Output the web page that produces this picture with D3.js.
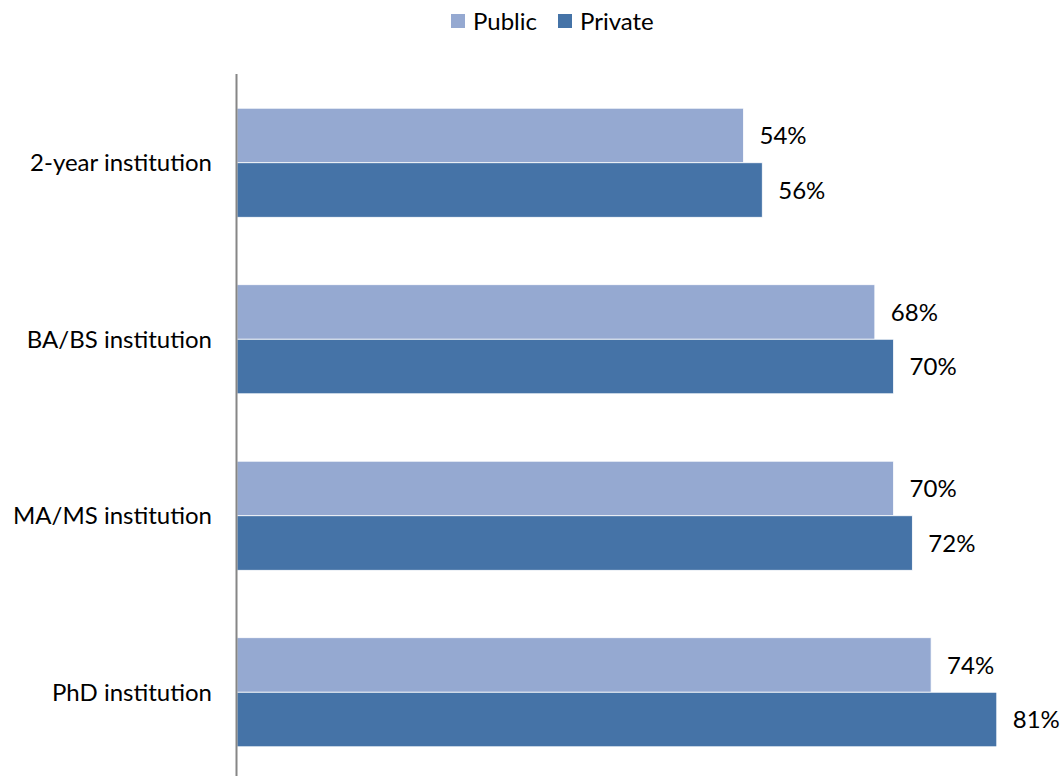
<!DOCTYPE html>
<html>
<head>
<meta charset="utf-8">
<script src="https://cdn.jsdelivr.net/npm/d3@7"></script>
<style>
  html, body { margin: 0; padding: 0; background: #fff; }
  text { font-family: Lato, "Open Sans", sans-serif; fill: #000; }
</style>
</head>
<body>
<svg id="chart" width="1060" height="778"></svg>
<script>
const categories = ["2-year institution", "BA/BS institution", "MA/MS institution", "PhD institution"];
const seriesNames = ["Public", "Private"];
const publicValues = [0.54, 0.68, 0.70, 0.74];
const privateValues = [0.56, 0.70, 0.72, 0.81];
const seriesColors = ["#95A9D1", "#4573A7"];

const data = categories.map((c, i) => ({
  category: c,
  values: [
    { series: seriesNames[0], value: publicValues[i] },
    { series: seriesNames[1], value: privateValues[i] }
  ]
}));

const svg = d3.select("#chart");
const fontSize = 24;

const x = d3.scaleLinear().domain([0, 1]).range([237, 1175]);
const y = d3.scaleBand().domain(categories).range([74.5, 780.5]).paddingInner(0.382).paddingOuter(0.191);
const ySub = d3.scaleBand().domain(seriesNames).range([0, y.bandwidth()]);
const color = d3.scaleOrdinal().domain(seriesNames).range(seriesColors);

const groups = svg.selectAll("g.cat")
  .data(data)
  .join("g")
  .attr("class", "cat")
  .attr("transform", d => `translate(0,${y(d.category)})`);

groups.selectAll("rect")
  .data(d => d.values)
  .join("rect")
  .attr("x", x(0))
  .attr("y", d => ySub(d.series))
  .attr("width", d => x(d.value) - x(0))
  .attr("height", ySub.bandwidth())
  .attr("fill", d => color(d.series))
  .attr("stroke", "#fff")
  .attr("stroke-width", 0.8);

groups.selectAll("text.val")
  .data(d => d.values)
  .join("text")
  .attr("class", "val")
  .attr("x", d => x(d.value) + 16)
  .attr("y", d => ySub(d.series) + ySub.bandwidth() / 2)
  .attr("dy", "0.36em")
  .style("font-size", fontSize + "px")
  .text(d => d3.format(".0%")(d.value));

// Category axis on the left, labels only
const yAxis = d3.axisLeft(y).tickSize(0).tickPadding(25);
const ax = svg.append("g").attr("transform", `translate(${x(0)},0)`).call(yAxis);
ax.select(".domain").remove();
ax.selectAll("text").style("font-size", fontSize + "px").attr("dy", "0.36em")
  .style("font-family", "Lato, 'Open Sans', sans-serif").attr("fill", "#000");

svg.append("line")
  .attr("x1", x(0) - 0.5).attr("x2", x(0) - 0.5)
  .attr("y1", 74).attr("y2", 776)
  .attr("stroke", "#868686").attr("stroke-width", 2);

// Legend
const legendX = [451, 558];
const legend = svg.selectAll("g.legend")
  .data(seriesNames)
  .join("g")
  .attr("class", "legend")
  .attr("transform", (d, i) => `translate(${legendX[i]},14)`);
legend.append("rect").attr("width", 14).attr("height", 14).attr("fill", d => color(d));
legend.append("text").attr("x", 22).attr("y", 7).attr("dy", "0.36em")
  .style("font-size", fontSize + "px").text(d => d);
</script>
</body>
</html>
